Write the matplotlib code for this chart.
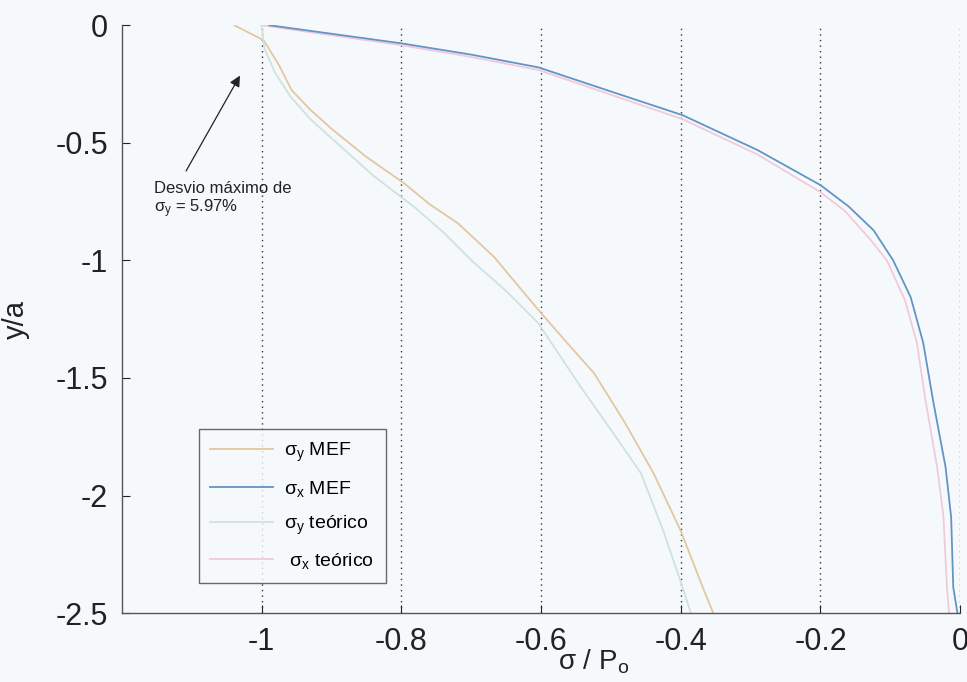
import matplotlib
matplotlib.use("Agg")
import matplotlib.pyplot as plt
from matplotlib.lines import Line2D

plt.rcParams['font.family'] = ['Liberation Sans', 'DejaVu Sans']
plt.rcParams['mathtext.fontset'] = 'custom'
plt.rcParams['mathtext.rm'] = 'Liberation Sans'
plt.rcParams['mathtext.it'] = 'Liberation Sans'

# Stress profiles along depth (sigma / P0 versus y/a)
sy_mef_x = [-1.039, -0.997, -0.975, -0.957, -0.930, -0.900, -0.850, -0.796, -0.760, -0.719,
            -0.667, -0.635, -0.600, -0.560, -0.524, -0.480, -0.439, -0.400, -0.367, -0.354]
sy_mef_y = [0.0, -0.064, -0.17, -0.276, -0.36, -0.44, -0.56, -0.672, -0.76, -0.842,
            -0.986, -1.10, -1.224, -1.36, -1.480, -1.69, -1.905, -2.15, -2.402, -2.496]

sx_mef_x = [-0.989, -0.800, -0.700, -0.604, -0.514, -0.397, -0.290, -0.200, -0.160, -0.124,
            -0.096, -0.071, -0.053, -0.039, -0.021, -0.013, -0.010, -0.004]
sx_mef_y = [0.0, -0.077, -0.125, -0.179, -0.268, -0.383, -0.531, -0.680, -0.77, -0.872,
            -1.0, -1.156, -1.35, -1.594, -1.879, -2.092, -2.389, -2.5]

sy_teo_x = [-1.0, -0.996, -0.981, -0.959, -0.930, -0.900, -0.840, -0.781, -0.740, -0.700,
            -0.650, -0.604, -0.543, -0.500, -0.457, -0.425, -0.396, -0.386]
sy_teo_y = [0.0, -0.098, -0.2, -0.302, -0.40, -0.48, -0.64, -0.774, -0.88, -0.999,
            -1.13, -1.267, -1.539, -1.72, -1.905, -2.15, -2.402, -2.496]

sx_teo_x = [-1.0, -0.800, -0.700, -0.604, -0.397, -0.290, -0.200, -0.165, -0.129, -0.105,
            -0.079, -0.062, -0.050, -0.033, -0.024, -0.019, -0.016]
sx_teo_y = [0.0, -0.085, -0.135, -0.19, -0.40, -0.55, -0.71, -0.79, -0.91, -1.0,
            -1.17, -1.35, -1.59, -1.88, -2.09, -2.39, -2.5]

x_ticks = [-1, -0.8, -0.6, -0.4, -0.2, 0]
x_tick_labels = ['-1', '-0.8', '-0.6', '-0.4', '-0.2', '0']
y_ticks = [0, -0.5, -1, -1.5, -2, -2.5]
y_tick_labels = ['0', '-0.5', '-1', '-1.5', '-2', '-2.5']

legend_labels = [r'$\sigma_y$ MEF', r'$\sigma_x$ MEF', r'$\sigma_y$ teórico', r' $\sigma_x$ teórico']
colors = ['#e3c7a0', '#6494c4', '#cde3dc', '#f1cada']

bg = '#f6f9fc'
fig = plt.figure(figsize=(9.67, 6.82), dpi=100, facecolor=bg)
ax = fig.add_axes([0.126, 0.101, 0.867, 0.862], facecolor=bg)

ax.plot(sy_mef_x, sy_mef_y, color=colors[0], lw=1.3)
ax.plot(sx_teo_x, sx_teo_y, color=colors[3], lw=1.3)
ax.plot(sy_teo_x, sy_teo_y, color=colors[2], lw=1.3)
ax.plot(sx_mef_x, sx_mef_y, color=colors[1], lw=1.3)

ax.set_xlim(-1.2, 0)
ax.set_ylim(-2.5, 0)
ax.set_xticks(x_ticks)
ax.set_xticklabels(x_tick_labels)
ax.set_yticks(y_ticks)
ax.set_yticklabels(y_tick_labels)
ax.tick_params(direction='in', length=6, labelsize=22, colors='#222222', pad=10)

ax.grid(axis='x', color='#333333', linestyle=(0, (1, 3)), lw=1.0)
for side in ('top', 'right'):
    ax.spines[side].set_visible(False)
for side in ('left', 'bottom'):
    ax.spines[side].set_color('#555555')
    ax.spines[side].set_linewidth(1.0)

ax.set_xlabel(r'$\sigma$ / P$_{\rm o}$', fontsize=20, color='#222222')
ax.xaxis.set_label_coords(0.563, -0.059)
ax.set_ylabel('y/a', fontsize=21, color='#222222', labelpad=18)

# Arrow pointing to the largest deviation of sigma_y
ax.annotate('', xy=(-1.029, -0.204), xytext=(-1.11, -0.63),
            arrowprops=dict(arrowstyle='-|>', color='#222222', lw=0.9,
                            mutation_scale=16))
ax.text(-1.154, -0.745, 'Desvio máximo de\n' + r'$\sigma_y$ = 5.97%',
        fontsize=12, color='#222222', va='center', ha='left', linespacing=1.15)

handles = [Line2D([], [], color=c, lw=1.3) for c in colors]
leg = ax.legend(handles, legend_labels, loc='lower left',
                bbox_to_anchor=(0.08, 0.035), fontsize=14,
                frameon=True, fancybox=False, edgecolor='#444444',
                facecolor=bg, handlelength=3.2, labelspacing=0.75,
                borderpad=0.6, handletextpad=0.6)
leg.get_frame().set_linewidth(1.0)

fig.savefig('out.png', dpi=100, facecolor=bg)
